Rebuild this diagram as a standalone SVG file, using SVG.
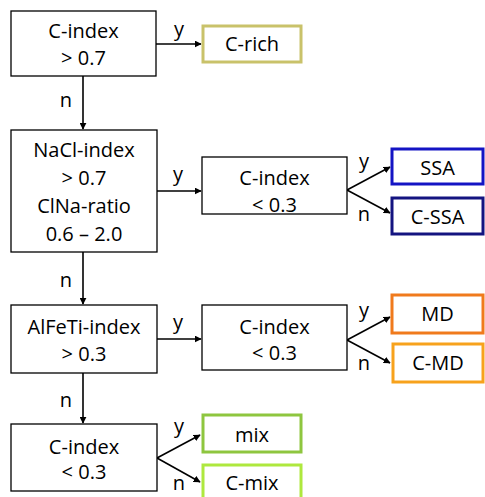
<svg xmlns="http://www.w3.org/2000/svg" width="485" height="497" viewBox="0 0 485 497">
  <style>
    .box { fill: #ffffff; stroke: #000000; stroke-width: 1.3; }
    .leaf { fill: #ffffff; stroke-width: 3; }
    .t { font-family: "Open Sans", "Noto Sans", sans-serif; font-size: 20px; fill: #000000; text-anchor: middle; }
    .lbl { font-family: "Open Sans", "Noto Sans", sans-serif; font-size: 20px; fill: #000000; text-anchor: middle; }
    .con { stroke: #000000; stroke-width: 1.6; fill: none; marker-end: url(#arr); }
  </style>
  <defs>
    <marker id="arr" viewBox="0 0 10 10" refX="9" refY="5" markerWidth="7" markerHeight="7" markerUnits="userSpaceOnUse" orient="auto">
      <path d="M0,0 L10,5 L0,10 z" fill="#000000"/>
    </marker>
  </defs>

  <!-- connectors -->
  <g id="connectors">
    <line class="con" x1="156" y1="44" x2="201" y2="44"/>
    <line class="con" x1="83" y1="76" x2="83" y2="129"/>
    <line class="con" x1="157" y1="191" x2="201" y2="191"/>
    <line class="con" x1="83" y1="252" x2="83" y2="304"/>
    <line class="con" x1="157" y1="339" x2="201" y2="339"/>
    <line class="con" x1="83" y1="373" x2="83" y2="423"/>
    <line class="con" x1="347" y1="190" x2="390" y2="167"/>
    <line class="con" x1="347" y1="190" x2="390" y2="213"/>
    <line class="con" x1="347" y1="340" x2="390" y2="317"/>
    <line class="con" x1="347" y1="340" x2="390" y2="363"/>
    <line class="con" x1="157" y1="458" x2="200" y2="435"/>
    <line class="con" x1="157" y1="458" x2="200" y2="482"/>
    <text class="lbl" x="179" y="36">y</text>
    <text class="lbl" x="66" y="107">n</text>
    <text class="lbl" x="178" y="181">y</text>
    <text class="lbl" x="66" y="287">n</text>
    <text class="lbl" x="178" y="329">y</text>
    <text class="lbl" x="66" y="407">n</text>
    <text class="lbl" x="364" y="168">y</text>
    <text class="lbl" x="364" y="221">n</text>
    <text class="lbl" x="364" y="317">y</text>
    <text class="lbl" x="364" y="370">n</text>
    <text class="lbl" x="179" y="433">y</text>
    <text class="lbl" x="179" y="490">n</text>
  </g>

  <!-- decision nodes -->
  <g id="c-index-high">
    <rect class="box" x="11" y="11" width="145" height="65"/>
    <text class="t" x="83.5" y="38">C-index</text>
    <text class="t" x="83.5" y="65">&gt; 0.7</text>
  </g>
  <g id="nacl-index">
    <rect class="box" x="11" y="130" width="146" height="122"/>
    <text class="t" x="84" y="157">NaCl-index</text>
    <text class="t" x="84" y="185">&gt; 0.7</text>
    <text class="t" x="84" y="213">ClNa-ratio</text>
    <text class="t" x="84" y="241">0.6 – 2.0</text>
  </g>
  <g id="c-index-ssa">
    <rect class="box" x="202" y="157" width="145" height="57"/>
    <text class="t" x="274.5" y="185">C-index</text>
    <text class="t" x="274.5" y="212">&lt; 0.3</text>
  </g>
  <g id="alfeti-index">
    <rect class="box" x="11" y="305" width="146" height="68"/>
    <text class="t" x="84" y="334">AlFeTi-index</text>
    <text class="t" x="84" y="361">&gt; 0.3</text>
  </g>
  <g id="c-index-md">
    <rect class="box" x="202" y="305" width="145" height="65"/>
    <text class="t" x="274.5" y="334">C-index</text>
    <text class="t" x="274.5" y="360">&lt; 0.3</text>
  </g>
  <g id="c-index-mix">
    <rect class="box" x="11" y="424" width="146" height="67"/>
    <text class="t" x="84" y="454">C-index</text>
    <text class="t" x="84" y="479">&lt; 0.3</text>
  </g>

  <!-- result nodes -->
  <g id="c-rich">
    <rect class="leaf" x="203" y="26" width="98" height="36" stroke="#c9c26a"/>
    <text class="t" x="252" y="51">C-rich</text>
  </g>
  <g id="ssa">
    <rect class="leaf" x="392" y="149" width="91" height="35" stroke="#1414c4"/>
    <text class="t" x="437.5" y="175">SSA</text>
  </g>
  <g id="c-ssa">
    <rect class="leaf" x="392" y="198" width="91" height="36" stroke="#141480"/>
    <text class="t" x="437.5" y="224">C-SSA</text>
  </g>
  <g id="md">
    <rect class="leaf" x="392" y="295" width="91" height="38" stroke="#f07a1c"/>
    <text class="t" x="437.5" y="321">MD</text>
  </g>
  <g id="c-md">
    <rect class="leaf" x="393" y="344" width="90" height="38" stroke="#f7a21c"/>
    <text class="t" x="438" y="370">C-MD</text>
  </g>
  <g id="mix">
    <rect class="leaf" x="203" y="415" width="98" height="37" stroke="#8ec63f"/>
    <text class="t" x="252" y="442">mix</text>
  </g>
  <g id="c-mix">
    <rect class="leaf" x="203" y="465" width="98" height="36" stroke="#aee83e"/>
    <text class="t" x="252" y="490">C-mix</text>
  </g>
</svg>
